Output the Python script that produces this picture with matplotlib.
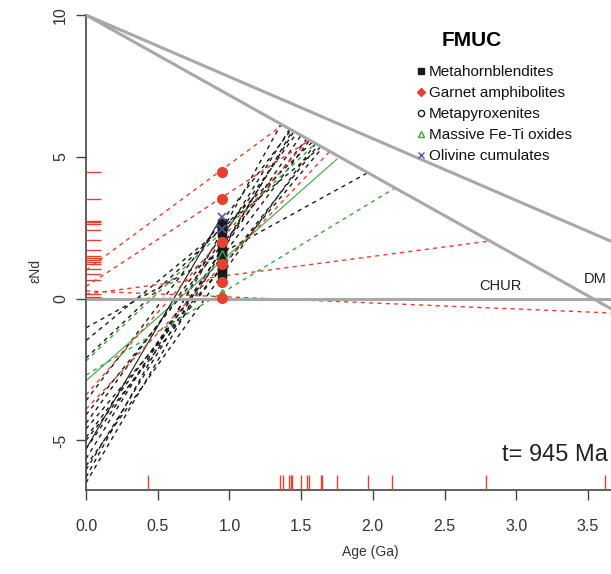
import numpy as np
import matplotlib
matplotlib.use('Agg')
import matplotlib.pyplot as plt
from matplotlib.transforms import blended_transform_factory

plt.rcParams['font.family'] = ['Liberation Sans', 'DejaVu Sans']

t_age = 0.945  # Ga

# reference lines (age Ga, eps Nd)
chur_age = [0.0, 3.8]
chur_eps = [0.0, 0.0]
dm_age = [0.0, 3.8]
dm_eps = [10.0, -0.75]
dm2_age = [0.0, 3.8]
dm2_eps = [10.0, 1.72]

# evolution lines: present-day eps -> DM intersection
red_eps0 = [1.0, 0.43, 0.16, 0.27, -3.4, -3.9]
red_end_age = [1.37, 1.56, 2.80, 3.72, 1.55, 1.70]
red_end_eps = [6.12, 5.59, 2.02, -0.52, 5.61, 5.19]

black_eps0 = [-1.03, -1.48, -2.1, -3.6, -4.1, -4.4, -4.6, -4.9, -5.0, -5.3, -5.65, -5.9, -6.04, -6.3, -6.5]
black_end_age = [1.965, 1.64, 1.58, 1.43, 1.54, 1.47, 1.65, 1.56, 1.62, 1.50, 1.42, 1.60, 1.45, 1.36, 1.44]
black_end_eps = [4.44, 5.36, 5.53, 5.95, 5.64, 5.84, 5.33, 5.59, 5.42, 5.76, 5.98, 5.47, 5.90, 6.15, 5.92]

green_eps0 = [-2.2, -2.7]
green_end_age = [1.60, 2.155]
green_end_eps = [5.47, 3.90]
green_solid_eps0 = -2.9
green_solid_end = (1.75, 4.92)
black_solid_eps0 = -5.3

# samples at t
red_pts = [4.45, 3.52, 2.0, 1.21, 0.6, 0.02]
black_sq = [2.68, 2.55, 2.42, 2.3, 1.78, 1.65, 1.5, 1.38, 1.25, 1.1, 0.95, 0.82]
pyro_pts = [2.45]
green_tri = [1.55, 0.15]
olivine_pts = [2.88, 2.45]

# rug marks
rug_age = [0.432, 1.354, 1.373, 1.415, 1.427, 1.439, 1.499, 1.541, 1.558, 1.639,
           1.649, 1.749, 1.965, 2.135, 2.786, 3.621]
rug_eps = [4.45, 3.52, 2.75, 2.69, 2.62, 2.42, 2.05, 1.70, 1.49, 1.43, 1.37, 1.30,
           1.22, 1.06, 0.87, 0.67, 0.15, 0.06]

RED = '#e8402e'
GREEN = '#3aa83a'
BLACK = '#1a1a1a'
GRAY = '#a8a8a8'
OLIV = '#5a55a8'

fig = plt.figure(figsize=(6.11, 5.74), dpi=100)
ax = fig.add_axes([86/611, 84/574, 525/611, 490/574])
ax.set_xlim(0, 3.661)
ax.set_ylim(-6.75, 10.53)

dash = (0, (3, 3))
for e0, xa, ea in zip(black_eps0, black_end_age, black_end_eps):
    ax.plot([0, xa], [e0, ea], color=BLACK, lw=1.0, ls=dash, zorder=2)
for e0, xa, ea in zip(green_eps0, green_end_age, green_end_eps):
    ax.plot([0, xa], [e0, ea], color=GREEN, lw=1.0, ls=dash, zorder=2)
ax.plot([0, green_solid_end[0]], [green_solid_eps0, green_solid_end[1]], color=GREEN, lw=0.8, zorder=2)
ax.plot([0, t_age], [black_solid_eps0, olivine_pts[0]], color=BLACK, lw=0.8, zorder=2)
for e0, xa, ea in zip(red_eps0, red_end_age, red_end_eps):
    ax.plot([0, xa], [e0, ea], color=RED, lw=1.0, ls=dash, zorder=2)

ax.plot(dm_age, dm_eps, color=GRAY, lw=2.2, zorder=3, solid_capstyle='butt')
ax.plot(dm2_age, dm2_eps, color=GRAY, lw=2.2, zorder=3, solid_capstyle='butt')
ax.plot(chur_age, chur_eps, color=GRAY, lw=2.2, zorder=3, solid_capstyle='butt')

ax.plot([t_age] * len(pyro_pts), pyro_pts, 'o', mfc='white', mec=BLACK, ms=5, zorder=4)
ax.plot([t_age] * len(black_sq), black_sq, 's', color=BLACK, ms=6, zorder=5)
ax.plot([t_age] * len(green_tri), green_tri, '^', mfc='none', mec=GREEN, ms=7, zorder=6)
ax.plot([t_age] * len(red_pts), red_pts, 'o', color=RED, ms=7, zorder=6)
ax.plot([t_age] * len(olivine_pts), olivine_pts, 'x', color=OLIV, ms=6, mew=1.2, zorder=7)

# rugs
tr_x = blended_transform_factory(ax.transData, ax.transAxes)
tr_y = blended_transform_factory(ax.transAxes, ax.transData)
ax.vlines(rug_age, 0, 0.031, transform=tr_x, color=RED, lw=1.0, zorder=3)
ax.hlines(rug_eps, 0, 0.029, transform=tr_y, color=RED, lw=1.0, zorder=3)

ax.text(2.89, 0.2, 'CHUR', fontsize=10.5, ha='center', va='bottom', color='#222222')
ax.text(3.55, 0.45, 'DM', fontsize=10.5, ha='center', va='bottom', color='#222222')
fig.text(608/611, 1 - 455/574, 't= 945 Ma', fontsize=17, ha='right', va='center', color='#222222')

# legend
fig.text(472/611, 1 - 40/574, 'FMUC', fontsize=15, fontweight='bold', ha='center', va='center')
leg_labels = ['Metahornblendites', 'Garnet amphibolites', 'Metapyroxenites',
              'Massive Fe-Ti oxides', 'Olivine cumulates']
leg_marker = ['s', 'D', 'o', '^', 'x']
leg_fc = [BLACK, RED, 'white', 'white', OLIV]
leg_ec = [BLACK, RED, BLACK, GREEN, OLIV]
leg_y = [72, 93, 114, 135, 156]
for lab, mk, fc, ec, yy in zip(leg_labels, leg_marker, leg_fc, leg_ec, leg_y):
    fy = 1 - yy / 574
    ax.plot([421 / 611], [fy + 0.002], marker=mk, mfc=fc, mec=ec, ms=4.5, mew=1.0,
            transform=fig.transFigure, clip_on=False, zorder=8)
    fig.text(429 / 611, fy, lab, fontsize=11, ha='left', va='center', color='#111111')

for s in ['top', 'right']:
    ax.spines[s].set_visible(False)
ax.spines['left'].set_bounds(-6.75, 10)
for s in ['left', 'bottom']:
    ax.spines[s].set_color('#444444')
    ax.spines[s].set_linewidth(1.2)

ax.set_xticks([0, 0.5, 1.0, 1.5, 2.0, 2.5, 3.0, 3.5])
ax.set_xticklabels(['0.0', '0.5', '1.0', '1.5', '2.0', '2.5', '3.0', '3.5'])
ax.set_yticks([-5, 0, 5, 10])
ax.set_yticklabels(['-5', '0', '5', '10'], rotation=90, va='center')
ax.tick_params(axis='x', direction='out', length=7, width=1.0, color='#444444',
               labelsize=11.5, pad=14, labelcolor='#333333')
ax.tick_params(axis='y', direction='out', length=7, width=1.0, color='#444444',
               labelsize=11.5, pad=6, labelcolor='#333333')
fig.text(370 / 611, 1 - 552 / 574, 'Age (Ga)', fontsize=10, ha='center', va='center', color='#333333')
fig.text(36 / 611, 1 - 271 / 574, 'εNd', fontsize=10, ha='center', va='center', rotation=90, color='#333333')

fig.savefig('out.png', dpi=100)
